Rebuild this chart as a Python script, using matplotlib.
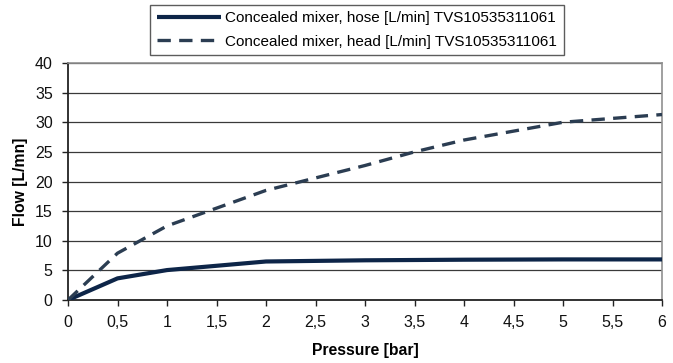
import matplotlib
matplotlib.use("Agg")
import matplotlib.pyplot as plt
from matplotlib.ticker import MultipleLocator, FuncFormatter

plt.rcParams['font.family'] = ['Liberation Sans', 'DejaVu Sans']

pressure = [0, 0.5, 1, 2, 3, 4, 5, 6]
hose_flow = [0, 3.65, 5.05, 6.5, 6.7, 6.8, 6.85, 6.85]
head_pressure = [0, 0.5, 1, 2, 3, 3.5, 4, 5, 6]
head_flow = [0, 7.9, 12.5, 18.5, 22.7, 25.0, 27.0, 30.0, 31.3]

hose_label = "Concealed mixer, hose [L/min] TVS10535311061"
head_label = "Concealed mixer, head [L/min] TVS10535311061"

fig = plt.figure(figsize=(6.73, 3.63), dpi=100)
ax = fig.add_axes([68 / 673, 63 / 363, 594 / 673, 237 / 363])

ax.plot(pressure, hose_flow, color='#0d2548', lw=3.0, solid_capstyle='butt',
        label=hose_label, zorder=4)
ax.plot(head_pressure, head_flow, color='#2b3d52', lw=2.4, dashes=(4, 2.5),
        label=head_label, zorder=4)

ax.set_xlim(0, 6)
ax.set_ylim(0, 40)
ax.xaxis.set_major_locator(MultipleLocator(0.5))
ax.yaxis.set_major_locator(MultipleLocator(5))
ax.xaxis.set_major_formatter(FuncFormatter(lambda v, p: f"{v:g}".replace('.', ',')))

ax.grid(axis='y', color='#3a3a3a', lw=0.9)
ax.set_axisbelow(True)
for s in ['top', 'right']:
    ax.spines[s].set_color('#909090')
    ax.spines[s].set_linewidth(1.2)
for s in ['left', 'bottom']:
    ax.spines[s].set_color('#222222')
    ax.spines[s].set_linewidth(1.3)
ax.tick_params(direction='out', length=4, width=1, colors='#222222',
               labelsize=11.5, labelcolor='#111111', pad=7)

ax.set_xlabel("Pressure [bar]", fontsize=11.3, fontweight='bold', labelpad=9)
ax.set_ylabel("Flow [L/mn]", fontsize=11.3, fontweight='bold', labelpad=5)

leg = fig.legend(loc='center', bbox_to_anchor=(357 / 673, 1 - 30 / 363),
                 fontsize=11, frameon=True, fancybox=False, handlelength=4.2,
                 borderpad=0.45, labelspacing=0.6, handletextpad=0.3)
leg.get_frame().set_edgecolor('#333333')
leg.get_frame().set_linewidth(1.0)

fig.savefig("out.png", dpi=100)
